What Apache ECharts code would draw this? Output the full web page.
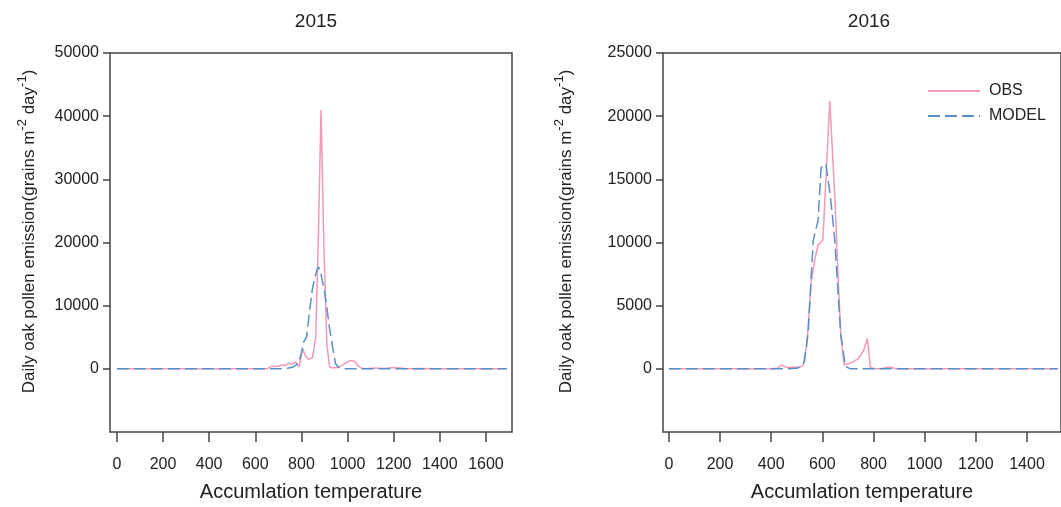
<!DOCTYPE html>
<html>
<head>
<meta charset="utf-8">
<script src="https://cdn.jsdelivr.net/npm/echarts@6/dist/echarts.min.js"></script>
<style>
  html, body { margin: 0; padding: 0; background: #fff; }
  #main { width: 1061px; height: 507px; }
</style>
</head>
<body>
<div id="main"></div>
<script>
// 2015 observed / modelled emission (x = accumulated temperature)
var obs15X = [0, 100, 200, 300, 400, 500, 600, 650, 670, 685, 700, 715, 730, 745, 760, 775, 790, 805, 818, 832, 848, 862, 874, 885, 897, 910, 922, 935, 955, 975, 995, 1012, 1030, 1045, 1060, 1080, 1120, 1160, 1200, 1260, 1320, 1400, 1500, 1600, 1690];
var obs15Y = [0, 0, 0, 0, 0, 0, 0, 0, 400, 350, 450, 600, 500, 900, 700, 1100, 300, 3200, 2000, 1500, 1800, 5000, 22000, 41000, 20000, 4000, 300, 150, 200, 500, 1000, 1300, 1200, 500, 100, 0, 150, 50, 200, 0, 50, 0, 0, 0, 0];
var mod15X = [0, 100, 200, 300, 400, 500, 600, 700, 740, 765, 785, 798, 810, 822, 835, 847, 857, 866, 874, 882, 890, 900, 911, 922, 935, 948, 960, 975, 1000, 1100, 1200, 1300, 1400, 1500, 1600, 1690];
var mod15Y = [0, 0, 0, 0, 0, 0, 0, 0, 100, 300, 800, 2200, 4300, 5000, 9000, 12500, 14300, 15500, 16100, 15600, 14000, 12300, 9500, 6400, 3500, 800, 250, 50, 0, 0, 0, 0, 0, 0, 0, 0];

// 2016
var obs16X = [0, 100, 200, 300, 400, 425, 440, 455, 470, 490, 510, 525, 540, 556, 571, 583, 602, 629, 649, 660, 672, 685, 700, 720, 740, 760, 776, 788, 805, 830, 850, 865, 880, 900, 1000, 1100, 1200, 1300, 1400, 1520];
var obs16Y = [0, 0, 0, 0, 0, 50, 300, 150, 100, 150, 100, 300, 2000, 6900, 8700, 9800, 10200, 21200, 13500, 8000, 2700, 300, 400, 550, 800, 1400, 2400, 100, 0, 0, 100, 150, 50, 0, 0, 0, 0, 0, 0, 0];
var mod16X = [0, 100, 200, 300, 400, 450, 500, 517, 530, 545, 564, 574, 583, 595, 605, 614, 622, 629, 640, 649, 660, 672, 690, 710, 800, 900, 1000, 1100, 1200, 1300, 1400, 1520];
var mod16Y = [0, 0, 0, 0, 0, 0, 50, 200, 600, 3000, 10100, 11000, 11700, 15900, 16200, 16200, 15000, 14000, 12000, 10100, 6500, 2700, 200, 0, 0, 0, 0, 0, 0, 0, 0, 0];

// tick labels
var xTicks15 = [0, 200, 400, 600, 800, 1000, 1200, 1400, 1600];
var xTicks16 = [0, 200, 400, 600, 800, 1000, 1200, 1400];
var yTicks15 = [0, 10000, 20000, 30000, 40000, 50000];
var yTicks16 = [0, 5000, 10000, 15000, 20000, 25000];

var pink = '#f29ab6';
var blue = '#5a8fc8';
var ink = '#222';
var boxColor = '#444';

function pairs(xs, ys) {
    return xs.map(function(x, i) { return [x, ys[i]]; });
}
function plain(v) { return String(v); }

var yName = '{n|Daily oak pollen emission(grains m}{s|-2}{n| day}{s|-1}{n|)}';
var yNameStyle = {
    color: ink,
    fontSize: 17,
    padding: [0, 0, 0, 22],
    rich: {
        n: { fontSize: 17, color: ink },
        s: { fontSize: 13, color: ink, padding: [0, 0, 14, 0] }
    }
};

function xAxis(idx, min, max, ticks) {
    return {
        type: 'value', gridIndex: idx, min: min, max: max,
        name: 'Accumlation temperature', nameLocation: 'middle', nameGap: 50,
        nameTextStyle: { color: ink, fontSize: 20 },
        splitLine: { show: false },
        axisLine: { show: false, onZero: false },
        axisTick: { show: true, length: 10, customValues: ticks, lineStyle: { color: boxColor, width: 1.5 } },
        axisLabel: { customValues: ticks, color: ink, fontSize: 16, margin: 25, formatter: plain }
    };
}

function yAxis(idx, min, max, ticks, gap) {
    return {
        type: 'value', gridIndex: idx, min: min, max: max,
        name: yName, nameLocation: 'middle', nameGap: gap,
        nameTextStyle: yNameStyle,
        splitLine: { show: false },
        axisLine: { show: false, onZero: false },
        axisTick: { show: true, length: 7, customValues: ticks, lineStyle: { color: boxColor, width: 1.5 } },
        axisLabel: { customValues: ticks, color: ink, fontSize: 16, margin: 11, formatter: plain }
    };
}

var chart = echarts.init(document.getElementById('main'));

var option = {
    backgroundColor: '#fff',
    animation: false,
    textStyle: { fontFamily: 'Liberation Sans, Arial, sans-serif' },
    title: [
        { text: '2015', left: 311, top: 7, textAlign: 'center', textStyle: { fontSize: 19, fontWeight: 'normal', color: ink } },
        { text: '2016', left: 864, top: 7, textAlign: 'center', textStyle: { fontSize: 19, fontWeight: 'normal', color: ink } }
    ],
    legend: {
        orient: 'vertical',
        left: 922, top: 78,
        itemWidth: 52, itemHeight: 14, itemGap: 9,
        itemStyle: { opacity: 0 },
        textStyle: { fontSize: 16, color: ink, padding: [0, 0, 0, 4] },
        data: ['OBS', 'MODEL']
    },
    grid: [
        { left: 110, top: 53, width: 402, height: 379, show: true, borderColor: boxColor, borderWidth: 1.5, backgroundColor: 'transparent' },
        { left: 663, top: 53, width: 403, height: 379, show: true, borderColor: boxColor, borderWidth: 1.5, backgroundColor: 'transparent' }
    ],
    xAxis: [
        xAxis(0, -30, 1713, xTicks15),
        xAxis(1, -23, 1533, xTicks16)
    ],
    yAxis: [
        yAxis(0, -10000, 50000, yTicks15, 67),
        yAxis(1, -5000, 25000, yTicks16, 83)
    ],
    series: [
        { name: 'OBS', type: 'line', xAxisIndex: 0, yAxisIndex: 0, symbol: 'none', data: pairs(obs15X, obs15Y),
          lineStyle: { color: pink, width: 1.5 }, itemStyle: { color: pink } },
        { name: 'MODEL', type: 'line', xAxisIndex: 0, yAxisIndex: 0, symbol: 'none', data: pairs(mod15X, mod15Y),
          lineStyle: { color: blue, width: 1.5, type: [12, 5] }, itemStyle: { color: blue } },
        { name: 'OBS', type: 'line', xAxisIndex: 1, yAxisIndex: 1, symbol: 'none', data: pairs(obs16X, obs16Y),
          lineStyle: { color: pink, width: 1.5 }, itemStyle: { color: pink } },
        { name: 'MODEL', type: 'line', xAxisIndex: 1, yAxisIndex: 1, symbol: 'none', data: pairs(mod16X, mod16Y),
          lineStyle: { color: blue, width: 1.5, type: [12, 5] }, itemStyle: { color: blue } }
    ]
};

chart.setOption(option);
</script>
</body>
</html>
